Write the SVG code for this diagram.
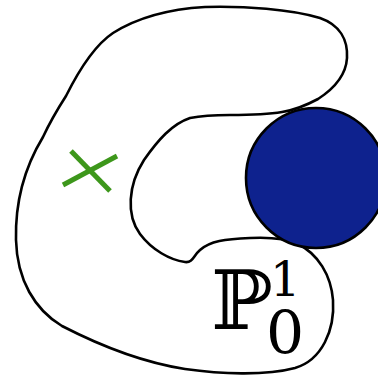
<svg xmlns="http://www.w3.org/2000/svg" width="378" height="376" viewBox="0 0 378 376">
<style>
.outline{fill:#fff;stroke:#000;stroke-width:2.6;stroke-linejoin:round}
.blob{fill:#0e228e;stroke:#000;stroke-width:2.6}
.mark{stroke:#3d971b;stroke-width:5;stroke-linecap:butt}
.lbl{font-family:"DejaVu Serif","Liberation Serif",serif;fill:#000}
</style>
<rect width="378" height="376" fill="#fff"/>
<g id="region">
<path class="outline" d="M113,33 C140,16 170,9 205,7 C245,6 290,9 320,18 C340,25 348,40 347,58 C346,75 335,88 318,99 C305,106 295,110 282,112 C265,115 250,115 230,115 C215,115 200,116 190,118 C172,124 158,140 144,160 C128,185 126,215 140,234 C152,250 170,260 185,262 C193,263 193,256 200,250 C210,241 225,239 250,238 C270,237 285,238 298,244 C318,254 331,275 333,300 C335,330 322,360 295,368 C265,376 220,374 185,369 C140,362 95,343 62,326 C35,310 17,280 16,240 C15,200 26,165 43,137 C50,122 57,110 66,96 C78,72 95,45 113,33 Z"/>
</g>
<g id="circle">
<circle class="blob" cx="316" cy="178" r="70"/>
</g>
<g id="cross">
<line class="mark" x1="63" y1="185" x2="117" y2="156"/>
<line class="mark" x1="71" y1="151" x2="110" y2="191"/>
</g>
<g id="label">
<text class="lbl" x="211" y="329" font-size="82">ℙ<tspan x="270" y="296" font-size="48">1</tspan><tspan x="266" y="354" font-size="60">0</tspan></text>
</g>
</svg>
